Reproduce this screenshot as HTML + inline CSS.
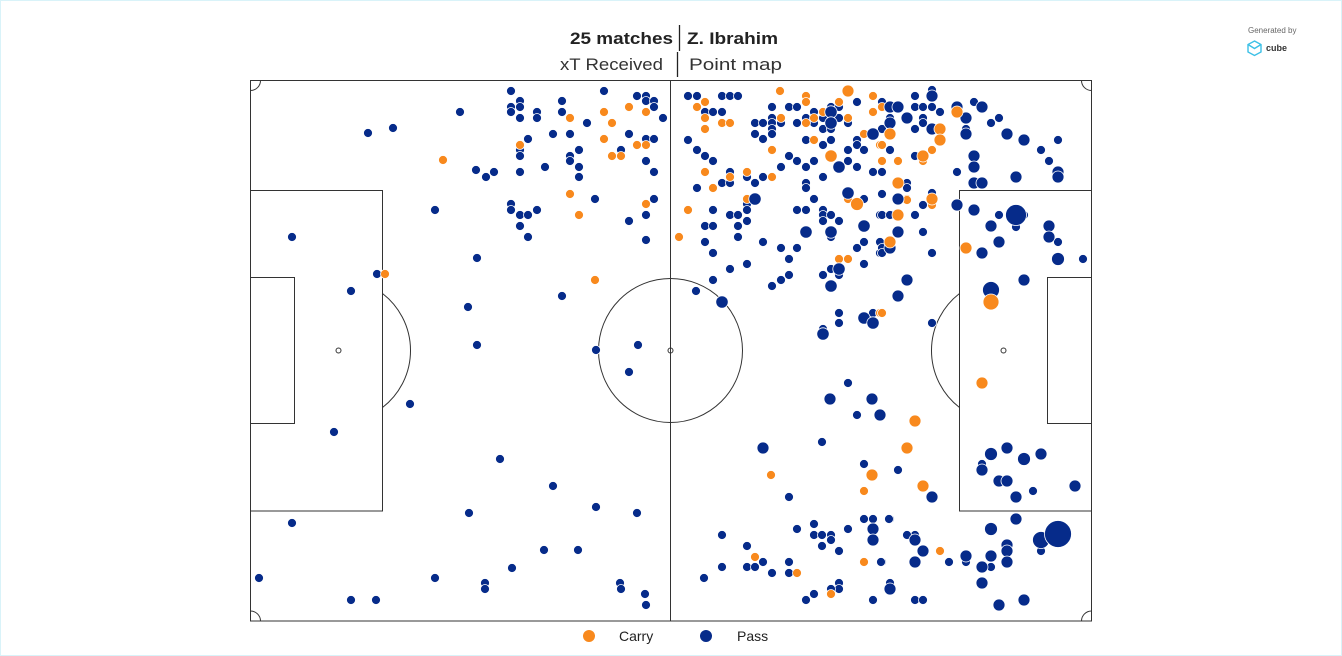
<!DOCTYPE html>
<html><head><meta charset="utf-8"><style>
html,body{margin:0;padding:0;background:#fff;}
body{width:1342px;height:656px;overflow:hidden;}
.wrap{position:absolute;left:0;top:0;width:1340px;height:654px;border:1px solid #d9f3f9;}
svg{position:absolute;left:0;top:0;}
.p{fill:none;stroke:#333;stroke-width:1;}
.n{fill:#062b8a;stroke:#fff;stroke-width:0.8;}
.o{fill:#f8891d;stroke:#fff;stroke-width:0.8;}
text{font-family:"Liberation Sans",sans-serif;}
</style></head><body><div class="wrap"></div>
<svg width="1342" height="656" viewBox="0 0 1342 656">
<!-- header -->
<text x="673" y="44" text-anchor="end" font-size="17" font-weight="bold" fill="#222" textLength="103" lengthAdjust="spacingAndGlyphs">25 matches</text>
<line x1="679.5" y1="25" x2="679.5" y2="51" stroke="#222" stroke-width="1.3"/>
<text x="687" y="44" font-size="17" font-weight="bold" fill="#222" textLength="91" lengthAdjust="spacingAndGlyphs">Z. Ibrahim</text>
<text x="663" y="70" text-anchor="end" font-size="17" fill="#333" textLength="103" lengthAdjust="spacingAndGlyphs">xT Received</text>
<line x1="677.5" y1="52" x2="677.5" y2="77" stroke="#222" stroke-width="1.3"/>
<text x="689" y="70" font-size="17" fill="#333" textLength="93" lengthAdjust="spacingAndGlyphs">Point map</text>
<!-- generated by -->
<text x="1248" y="33" font-size="8" fill="#666">Generated by</text>
<g fill="none" stroke="#3cc0e6" stroke-width="1.4">
<polygon points="1254.5,41 1261,44.5 1261,52 1254.5,55.5 1248,52 1248,44.5"/>
<polyline points="1248,44.5 1254.5,48.5 1261,44.5"/>
</g>
<text x="1266" y="51" font-size="9" font-weight="bold" fill="#333">cube</text>
<!-- pitch -->
<rect class="p" x="250.5" y="80.5" width="841" height="540.5"/>
<line class="p" x1="250.5" y1="80.5" x2="250.5" y2="621" stroke="#999" stroke-width="2"/>
<line class="p" x1="670.5" y1="80.5" x2="670.5" y2="621"/>
<circle class="p" cx="670.5" cy="350.5" r="72"/>
<circle class="p" cx="670.5" cy="350.5" r="2.5"/>
<rect class="p" x="250.5" y="190.5" width="132" height="320.5"/>
<rect class="p" x="250.5" y="277.5" width="44" height="146"/>
<circle class="p" cx="338.5" cy="350.5" r="2.5"/>
<path class="p" d="M382.5,293.5 A72,72 0 0 1 382.5,407.5"/>
<rect class="p" x="959.5" y="190.5" width="132" height="320.5"/>
<rect class="p" x="1047.5" y="277.5" width="44" height="146"/>
<circle class="p" cx="1003.5" cy="350.5" r="2.5"/>
<path class="p" d="M959.5,293.5 A72,72 0 0 0 959.5,407.5"/>
<path class="p" d="M250.5,90.5 A10,10 0 0 0 260.5,80.5"/>
<path class="p" d="M1081.5,80.5 A10,10 0 0 0 1091.5,90.5"/>
<path class="p" d="M250.5,611 A10,10 0 0 1 260.5,621"/>
<path class="p" d="M1081.5,621 A10,10 0 0 1 1091.5,611"/>
<!-- left half navy -->
<g class="n">
<circle cx="368" cy="133" r="4.5"/><circle cx="393" cy="128" r="4.5"/><circle cx="460" cy="112" r="4.5"/><circle cx="292" cy="237" r="4.5"/><circle cx="435" cy="210" r="4.5"/><circle cx="377" cy="274" r="4.5"/><circle cx="351" cy="291" r="4.5"/><circle cx="410" cy="404" r="4.5"/><circle cx="334" cy="432" r="4.5"/><circle cx="292" cy="523" r="4.5"/><circle cx="259" cy="578" r="4.5"/><circle cx="351" cy="600" r="4.5"/><circle cx="376" cy="600" r="4.5"/><circle cx="435" cy="578" r="4.5"/><circle cx="485" cy="583" r="4.5"/><circle cx="485" cy="589" r="4.5"/><circle cx="476" cy="170" r="4.5"/><circle cx="486" cy="177" r="4.5"/><circle cx="494" cy="172" r="4.5"/><circle cx="468" cy="307" r="4.5"/><circle cx="477" cy="258" r="4.5"/><circle cx="477" cy="345" r="4.5"/><circle cx="500" cy="459" r="4.5"/><circle cx="553" cy="486" r="4.5"/><circle cx="469" cy="513" r="4.5"/><circle cx="512" cy="568" r="4.5"/><circle cx="544" cy="550" r="4.5"/><circle cx="578" cy="550" r="4.5"/><circle cx="596" cy="507" r="4.5"/><circle cx="637" cy="513" r="4.5"/><circle cx="620" cy="583" r="4.5"/><circle cx="621" cy="589" r="4.5"/><circle cx="645" cy="594" r="4.5"/><circle cx="646" cy="605" r="4.5"/><circle cx="562" cy="296" r="4.5"/><circle cx="596" cy="350" r="4.5"/><circle cx="638" cy="345" r="4.5"/><circle cx="629" cy="372" r="4.5"/>
<circle cx="511" cy="91" r="4.5"/><circle cx="604" cy="91" r="4.5"/><circle cx="520" cy="101" r="4.5"/><circle cx="511" cy="107" r="4.5"/><circle cx="511" cy="112" r="4.5"/><circle cx="520" cy="107" r="4.5"/><circle cx="520" cy="118" r="4.5"/><circle cx="537" cy="112" r="4.5"/><circle cx="537" cy="118" r="4.5"/><circle cx="562" cy="101" r="4.5"/><circle cx="562" cy="112" r="4.5"/><circle cx="587" cy="123" r="4.5"/><circle cx="637" cy="96" r="4.5"/><circle cx="646" cy="96" r="4.5"/><circle cx="646" cy="101" r="4.5"/><circle cx="654" cy="101" r="4.5"/><circle cx="654" cy="107" r="4.5"/><circle cx="663" cy="118" r="4.5"/><circle cx="553" cy="134" r="4.5"/><circle cx="570" cy="134" r="4.5"/><circle cx="528" cy="139" r="4.5"/><circle cx="520" cy="150" r="4.5"/><circle cx="520" cy="156" r="4.5"/><circle cx="629" cy="134" r="4.5"/><circle cx="646" cy="139" r="4.5"/><circle cx="654" cy="139" r="4.5"/><circle cx="621" cy="150" r="4.5"/><circle cx="579" cy="150" r="4.5"/><circle cx="570" cy="156" r="4.5"/><circle cx="570" cy="161" r="4.5"/><circle cx="579" cy="167" r="4.5"/><circle cx="579" cy="177" r="4.5"/><circle cx="545" cy="167" r="4.5"/><circle cx="520" cy="172" r="4.5"/><circle cx="646" cy="161" r="4.5"/><circle cx="654" cy="172" r="4.5"/><circle cx="595" cy="199" r="4.5"/><circle cx="511" cy="204" r="4.5"/><circle cx="511" cy="210" r="4.5"/><circle cx="520" cy="215" r="4.5"/><circle cx="528" cy="215" r="4.5"/><circle cx="537" cy="210" r="4.5"/><circle cx="520" cy="226" r="4.5"/><circle cx="528" cy="237" r="4.5"/><circle cx="629" cy="221" r="4.5"/><circle cx="646" cy="215" r="4.5"/><circle cx="654" cy="199" r="4.5"/><circle cx="646" cy="240" r="4.5"/>
</g>
<g class="o">
<circle cx="443" cy="160" r="4.5"/><circle cx="385" cy="274" r="4.5"/><circle cx="595" cy="280" r="4.5"/>
<circle cx="570" cy="118" r="4.5"/><circle cx="604" cy="112" r="4.5"/><circle cx="612" cy="123" r="4.5"/><circle cx="629" cy="107" r="4.5"/><circle cx="646" cy="112" r="4.5"/><circle cx="520" cy="145" r="4.5"/><circle cx="604" cy="139" r="4.5"/><circle cx="637" cy="145" r="4.5"/><circle cx="646" cy="145" r="4.5"/><circle cx="612" cy="156" r="4.5"/><circle cx="621" cy="156" r="4.5"/><circle cx="570" cy="194" r="4.5"/><circle cx="579" cy="215" r="4.5"/><circle cx="646" cy="204" r="4.5"/>
</g>
<!-- right half navy small -->
<g class="n">
<circle cx="688" cy="96" r="4.5"/><circle cx="697" cy="96" r="4.5"/><circle cx="722" cy="96" r="4.5"/><circle cx="730" cy="96" r="4.5"/><circle cx="738" cy="96" r="4.5"/><circle cx="857" cy="102" r="4.5"/><circle cx="772" cy="107" r="4.5"/><circle cx="789" cy="107" r="4.5"/><circle cx="797" cy="107" r="4.5"/><circle cx="831" cy="107" r="4.5"/><circle cx="839" cy="107" r="4.5"/><circle cx="705" cy="112" r="4.5"/><circle cx="713" cy="112" r="4.5"/><circle cx="722" cy="112" r="4.5"/><circle cx="814" cy="112" r="4.5"/><circle cx="772" cy="118" r="4.5"/><circle cx="806" cy="118" r="4.5"/><circle cx="823" cy="118" r="4.5"/><circle cx="839" cy="118" r="4.5"/><circle cx="755" cy="123" r="4.5"/><circle cx="763" cy="123" r="4.5"/><circle cx="772" cy="123" r="4.5"/><circle cx="781" cy="123" r="4.5"/><circle cx="797" cy="123" r="4.5"/><circle cx="814" cy="123" r="4.5"/><circle cx="848" cy="123" r="4.5"/><circle cx="772" cy="129" r="4.5"/><circle cx="823" cy="129" r="4.5"/><circle cx="831" cy="129" r="4.5"/><circle cx="755" cy="134" r="4.5"/><circle cx="772" cy="134" r="4.5"/><circle cx="763" cy="139" r="4.5"/><circle cx="688" cy="140" r="4.5"/><circle cx="806" cy="140" r="4.5"/><circle cx="831" cy="140" r="4.5"/><circle cx="823" cy="145" r="4.5"/><circle cx="857" cy="140" r="4.5"/><circle cx="857" cy="145" r="4.5"/><circle cx="697" cy="150" r="4.5"/><circle cx="705" cy="156" r="4.5"/><circle cx="713" cy="161" r="4.5"/><circle cx="789" cy="156" r="4.5"/><circle cx="797" cy="161" r="4.5"/><circle cx="806" cy="167" r="4.5"/><circle cx="814" cy="161" r="4.5"/><circle cx="848" cy="150" r="4.5"/><circle cx="848" cy="161" r="4.5"/><circle cx="857" cy="167" r="4.5"/><circle cx="864" cy="150" r="4.5"/><circle cx="730" cy="172" r="4.5"/><circle cx="722" cy="183" r="4.5"/><circle cx="730" cy="183" r="4.5"/><circle cx="747" cy="177" r="4.5"/><circle cx="755" cy="183" r="4.5"/><circle cx="763" cy="177" r="4.5"/><circle cx="781" cy="167" r="4.5"/><circle cx="806" cy="183" r="4.5"/><circle cx="823" cy="177" r="4.5"/><circle cx="697" cy="188" r="4.5"/><circle cx="806" cy="188" r="4.5"/><circle cx="747" cy="204" r="4.5"/><circle cx="814" cy="199" r="4.5"/><circle cx="864" cy="199" r="4.5"/>
<circle cx="713" cy="210" r="4.5"/><circle cx="730" cy="215" r="4.5"/><circle cx="738" cy="215" r="4.5"/><circle cx="747" cy="210" r="4.5"/><circle cx="747" cy="221" r="4.5"/><circle cx="738" cy="226" r="4.5"/><circle cx="705" cy="226" r="4.5"/><circle cx="713" cy="226" r="4.5"/><circle cx="705" cy="242" r="4.5"/><circle cx="738" cy="237" r="4.5"/><circle cx="713" cy="253" r="4.5"/><circle cx="763" cy="242" r="4.5"/><circle cx="781" cy="248" r="4.5"/><circle cx="797" cy="248" r="4.5"/><circle cx="789" cy="259" r="4.5"/><circle cx="747" cy="264" r="4.5"/><circle cx="730" cy="269" r="4.5"/><circle cx="713" cy="280" r="4.5"/><circle cx="696" cy="291" r="4.5"/><circle cx="772" cy="286" r="4.5"/><circle cx="781" cy="280" r="4.5"/><circle cx="789" cy="275" r="4.5"/><circle cx="797" cy="210" r="4.5"/><circle cx="806" cy="210" r="4.5"/><circle cx="823" cy="210" r="4.5"/><circle cx="823" cy="215" r="4.5"/><circle cx="823" cy="221" r="4.5"/><circle cx="831" cy="215" r="4.5"/><circle cx="839" cy="221" r="4.5"/><circle cx="831" cy="237" r="4.5"/><circle cx="864" cy="242" r="4.5"/><circle cx="857" cy="248" r="4.5"/><circle cx="864" cy="264" r="4.5"/><circle cx="831" cy="269" r="4.5"/><circle cx="839" cy="275" r="4.5"/><circle cx="823" cy="275" r="4.5"/><circle cx="880" cy="215" r="4.5"/><circle cx="880" cy="242" r="4.5"/><circle cx="880" cy="253" r="4.5"/><circle cx="839" cy="313" r="4.5"/><circle cx="839" cy="323" r="4.5"/><circle cx="823" cy="329" r="4.5"/><circle cx="873" cy="313" r="4.5"/>
<circle cx="882" cy="102" r="4.5"/><circle cx="890" cy="118" r="4.5"/><circle cx="882" cy="129" r="4.5"/><circle cx="890" cy="150" r="4.5"/><circle cx="873" cy="172" r="4.5"/><circle cx="882" cy="172" r="4.5"/><circle cx="907" cy="183" r="4.5"/><circle cx="907" cy="188" r="4.5"/><circle cx="882" cy="194" r="4.5"/><circle cx="923" cy="205" r="4.5"/><circle cx="932" cy="193" r="4.5"/><circle cx="915" cy="96" r="4.5"/><circle cx="932" cy="90" r="4.5"/><circle cx="915" cy="107" r="4.5"/><circle cx="923" cy="107" r="4.5"/><circle cx="932" cy="107" r="4.5"/><circle cx="940" cy="112" r="4.5"/><circle cx="923" cy="118" r="4.5"/><circle cx="923" cy="123" r="4.5"/><circle cx="915" cy="129" r="4.5"/><circle cx="915" cy="156" r="4.5"/><circle cx="974" cy="102" r="4.5"/><circle cx="991" cy="123" r="4.5"/><circle cx="999" cy="118" r="4.5"/><circle cx="966" cy="129" r="4.5"/><circle cx="1058" cy="140" r="4.5"/><circle cx="1041" cy="150" r="4.5"/><circle cx="1049" cy="161" r="4.5"/><circle cx="957" cy="172" r="4.5"/>
<circle cx="999" cy="215" r="4.5"/><circle cx="1024" cy="215" r="4.5"/><circle cx="1016" cy="227" r="4.5"/><circle cx="1058" cy="242" r="4.5"/><circle cx="1083" cy="259" r="4.5"/><circle cx="882" cy="215" r="4.5"/><circle cx="890" cy="215" r="4.5"/><circle cx="915" cy="215" r="4.5"/><circle cx="923" cy="232" r="4.5"/><circle cx="882" cy="248" r="4.5"/><circle cx="882" cy="253" r="4.5"/><circle cx="932" cy="253" r="4.5"/><circle cx="932" cy="323" r="4.5"/>
<circle cx="848" cy="383" r="4.5"/><circle cx="857" cy="415" r="4.5"/><circle cx="822" cy="442" r="4.5"/><circle cx="864" cy="464" r="4.5"/><circle cx="789" cy="497" r="4.5"/><circle cx="898" cy="470" r="4.5"/><circle cx="1033" cy="491" r="4.5"/><circle cx="982" cy="464" r="4.5"/><circle cx="890" cy="519" r="4.5"/><circle cx="915" cy="535" r="4.5"/><circle cx="907" cy="535" r="4.5"/><circle cx="949" cy="562" r="4.5"/><circle cx="966" cy="562" r="4.5"/><circle cx="991" cy="567" r="4.5"/><circle cx="882" cy="562" r="4.5"/><circle cx="890" cy="583" r="4.5"/><circle cx="915" cy="600" r="4.5"/><circle cx="923" cy="600" r="4.5"/><circle cx="1041" cy="551" r="4.5"/>
<circle cx="722" cy="535" r="4.5"/><circle cx="747" cy="546" r="4.5"/><circle cx="763" cy="562" r="4.5"/><circle cx="747" cy="567" r="4.5"/><circle cx="755" cy="567" r="4.5"/><circle cx="722" cy="567" r="4.5"/><circle cx="704" cy="578" r="4.5"/><circle cx="772" cy="573" r="4.5"/><circle cx="789" cy="562" r="4.5"/><circle cx="789" cy="573" r="4.5"/><circle cx="797" cy="529" r="4.5"/><circle cx="814" cy="524" r="4.5"/><circle cx="814" cy="535" r="4.5"/><circle cx="822" cy="535" r="4.5"/><circle cx="831" cy="535" r="4.5"/><circle cx="831" cy="540" r="4.5"/><circle cx="822" cy="546" r="4.5"/><circle cx="839" cy="551" r="4.5"/><circle cx="848" cy="529" r="4.5"/><circle cx="864" cy="519" r="4.5"/><circle cx="873" cy="519" r="4.5"/><circle cx="889" cy="519" r="4.5"/><circle cx="881" cy="562" r="4.5"/><circle cx="839" cy="583" r="4.5"/><circle cx="839" cy="589" r="4.5"/><circle cx="831" cy="589" r="4.5"/><circle cx="814" cy="594" r="4.5"/><circle cx="806" cy="600" r="4.5"/><circle cx="873" cy="600" r="4.5"/>
</g>
<!-- right half orange small -->
<g class="o">
<circle cx="780" cy="91" r="4.5"/><circle cx="806" cy="96" r="4.5"/><circle cx="873" cy="96" r="4.5"/><circle cx="705" cy="102" r="4.5"/><circle cx="806" cy="102" r="4.5"/><circle cx="839" cy="102" r="4.5"/><circle cx="697" cy="107" r="4.5"/><circle cx="823" cy="112" r="4.5"/><circle cx="873" cy="112" r="4.5"/><circle cx="705" cy="118" r="4.5"/><circle cx="781" cy="118" r="4.5"/><circle cx="814" cy="118" r="4.5"/><circle cx="848" cy="118" r="4.5"/><circle cx="722" cy="123" r="4.5"/><circle cx="730" cy="123" r="4.5"/><circle cx="806" cy="123" r="4.5"/><circle cx="705" cy="129" r="4.5"/><circle cx="814" cy="140" r="4.5"/><circle cx="864" cy="134" r="4.5"/><circle cx="880" cy="145" r="4.5"/><circle cx="772" cy="150" r="4.5"/><circle cx="705" cy="172" r="4.5"/><circle cx="730" cy="177" r="4.5"/><circle cx="747" cy="172" r="4.5"/><circle cx="772" cy="177" r="4.5"/><circle cx="713" cy="188" r="4.5"/><circle cx="747" cy="199" r="4.5"/><circle cx="848" cy="199" r="4.5"/>
<circle cx="688" cy="210" r="4.5"/><circle cx="679" cy="237" r="4.5"/><circle cx="839" cy="259" r="4.5"/><circle cx="848" cy="259" r="4.5"/><circle cx="880" cy="313" r="4.5"/>
<circle cx="882" cy="107" r="4.5"/><circle cx="882" cy="145" r="4.5"/><circle cx="882" cy="161" r="4.5"/><circle cx="898" cy="161" r="4.5"/><circle cx="907" cy="199" r="4.5"/><circle cx="932" cy="205" r="4.5"/><circle cx="923" cy="161" r="4.5"/><circle cx="932" cy="150" r="4.5"/><circle cx="907" cy="200" r="4.5"/><circle cx="882" cy="313" r="4.5"/>
<circle cx="771" cy="475" r="4.5"/><circle cx="864" cy="491" r="4.5"/><circle cx="940" cy="551" r="4.5"/><circle cx="755" cy="557" r="4.5"/><circle cx="797" cy="573" r="4.5"/><circle cx="864" cy="562" r="4.5"/><circle cx="831" cy="594" r="4.5"/>
</g>
<!-- large navy -->
<g class="n">
<circle cx="831" cy="112" r="6.2"/><circle cx="831" cy="123" r="6.2"/><circle cx="873" cy="134" r="6.2"/><circle cx="839" cy="167" r="6.2"/><circle cx="755" cy="199" r="6.2"/><circle cx="848" cy="193" r="6.2"/>
<circle cx="722" cy="302" r="6.2"/><circle cx="806" cy="232" r="6.2"/><circle cx="831" cy="232" r="6.2"/><circle cx="864" cy="226" r="6.2"/><circle cx="839" cy="269" r="6.2"/><circle cx="831" cy="286" r="6.2"/><circle cx="823" cy="334" r="6.2"/><circle cx="864" cy="318" r="6.2"/><circle cx="873" cy="323" r="6.2"/>
<circle cx="890" cy="107" r="6"/><circle cx="898" cy="107" r="6"/><circle cx="890" cy="123" r="6"/><circle cx="898" cy="199" r="6"/><circle cx="932" cy="96" r="6"/><circle cx="907" cy="118" r="6"/><circle cx="932" cy="129" r="6"/><circle cx="957" cy="107" r="6"/><circle cx="966" cy="118" r="6"/><circle cx="982" cy="107" r="6"/><circle cx="966" cy="134" r="6"/><circle cx="1007" cy="134" r="6"/><circle cx="1024" cy="140" r="6"/><circle cx="1058" cy="172" r="6"/><circle cx="1058" cy="177" r="6"/><circle cx="1016" cy="177" r="6"/><circle cx="974" cy="156" r="6"/><circle cx="974" cy="167" r="6"/><circle cx="974" cy="183" r="6"/><circle cx="982" cy="183" r="6"/><circle cx="957" cy="205" r="6"/>
<circle cx="974" cy="210" r="6"/><circle cx="1049" cy="226" r="6"/><circle cx="1049" cy="237" r="6"/><circle cx="991" cy="226" r="6"/><circle cx="999" cy="242" r="6"/><circle cx="982" cy="253" r="6"/><circle cx="1058" cy="259" r="6.5"/><circle cx="1024" cy="280" r="6"/><circle cx="898" cy="232" r="6"/><circle cx="890" cy="248" r="6"/><circle cx="907" cy="280" r="6"/><circle cx="898" cy="296" r="6"/>
<circle cx="830" cy="399" r="6"/><circle cx="872" cy="399" r="6"/><circle cx="880" cy="415" r="6"/><circle cx="763" cy="448" r="6"/><circle cx="932" cy="497" r="6"/><circle cx="991" cy="454" r="6.5"/><circle cx="1007" cy="448" r="6"/><circle cx="1024" cy="459" r="6.5"/><circle cx="1041" cy="454" r="6"/><circle cx="982" cy="470" r="6"/><circle cx="999" cy="481" r="6"/><circle cx="1007" cy="481" r="6"/><circle cx="1016" cy="497" r="6"/><circle cx="1075" cy="486" r="6"/><circle cx="1016" cy="519" r="6"/><circle cx="991" cy="529" r="6.5"/><circle cx="1007" cy="545" r="6"/><circle cx="1007" cy="551" r="6"/><circle cx="1007" cy="562" r="6"/><circle cx="991" cy="556" r="6"/><circle cx="982" cy="567" r="6"/><circle cx="966" cy="556" r="6"/><circle cx="923" cy="551" r="6"/><circle cx="915" cy="540" r="6"/><circle cx="915" cy="562" r="6"/><circle cx="982" cy="583" r="6"/><circle cx="890" cy="589" r="6"/><circle cx="999" cy="605" r="6"/><circle cx="1024" cy="600" r="6"/><circle cx="873" cy="529" r="6"/><circle cx="873" cy="540" r="6"/>
<circle cx="1016" cy="215" r="10.5"/><circle cx="991" cy="290" r="8.5"/><circle cx="1041" cy="540" r="8.5"/><circle cx="1058" cy="534" r="13.5"/>
</g>
<!-- large orange -->
<g class="o">
<circle cx="848" cy="91" r="6"/><circle cx="831" cy="156" r="6.2"/><circle cx="857" cy="204" r="6.5"/>
<circle cx="890" cy="134" r="6"/><circle cx="898" cy="183" r="6"/><circle cx="932" cy="199" r="6"/><circle cx="940" cy="129" r="6"/><circle cx="940" cy="140" r="6"/><circle cx="923" cy="156" r="6"/><circle cx="957" cy="112" r="6"/>
<circle cx="898" cy="215" r="6"/><circle cx="890" cy="242" r="6"/><circle cx="966" cy="248" r="6"/><circle cx="991" cy="302" r="8"/>
<circle cx="915" cy="421" r="6"/><circle cx="907" cy="448" r="6"/><circle cx="923" cy="486" r="6"/><circle cx="872" cy="475" r="6"/><circle cx="982" cy="383" r="6"/>
</g>
<!-- legend -->
<circle cx="589" cy="636" r="6" fill="#f8891d"/>
<text x="619" y="641" font-size="14" fill="#222">Carry</text>
<circle cx="706" cy="636" r="6" fill="#062b8a"/>
<text x="737" y="641" font-size="14" fill="#222">Pass</text>
</svg>
</body></html>
